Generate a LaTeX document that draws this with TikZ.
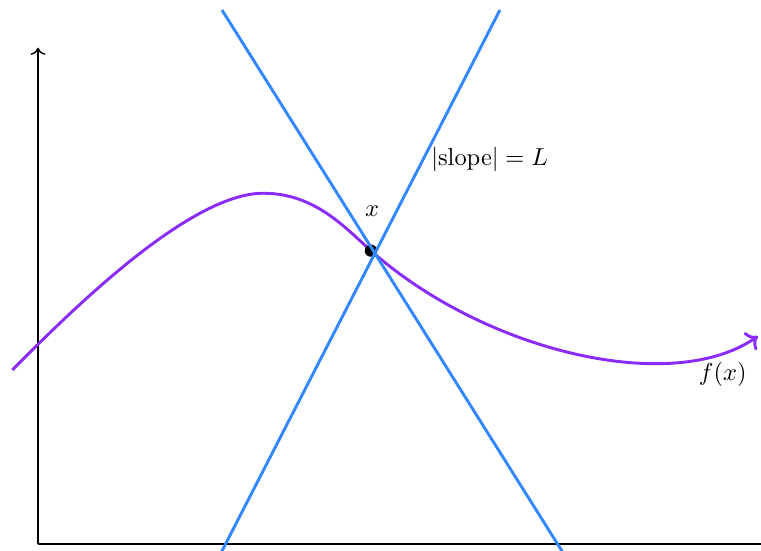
\documentclass[tikz,border=0pt]{standalone}
\usepackage{xcolor}
\usepackage{tikz}
\usepackage{amsmath,amssymb}
\usetikzlibrary{arrows.meta,calc}
\definecolor{lipblue}{HTML}{3388FF}
\definecolor{funcpurple}{HTML}{8A2BF8}

\begin{document}
\begin{tikzpicture}[
  axis/.style={semithick, ->},
  bound/.style={very thick, lipblue},
  func/.style={very thick, funcpurple, ->}
]
  \clip (-0.546,-0.1) rectangle (10.39,7.816);
  \draw[axis] (0,0) -- (0,7.13);
  \draw[axis, thick] (0,0) -- (10.7,0);

  \coordinate (start) at (-0.369,2.5);
  \coordinate (peak) at (3.237,5.039);
  \coordinate (pt) at (4.784,4.214);
  \coordinate (tip) at (10.345,2.985);

  \draw[func] (start) .. controls (0.338,3.207) and (2.138,5.039) .. (peak)
    .. controls (3.977,5.039) and (4.41,4.546) .. (pt)
    .. controls (6.432,2.755) and (9.12,2.13) .. (tip);
  \fill (pt) circle (0.088);

  % the two lines of slope +L and -L
  \coordinate (downtop) at (2.644,7.672);
  \coordinate (downbot) at (7.654,-0.3);
  \coordinate (uptop) at (6.638,7.672);
  \coordinate (upbot) at (2.542,-0.3);
  \draw[bound] (downtop) -- (downbot);
  \draw[bound] (upbot) -- (uptop);

  \node (xlab) at (4.80,4.78) {$x$};
  \node (slopelab) at (6.49,5.52) {$|\text{slope}| = L$};
  \node (flab) at (9.84,2.43) {$f(x)$};
\end{tikzpicture}
\end{document}
